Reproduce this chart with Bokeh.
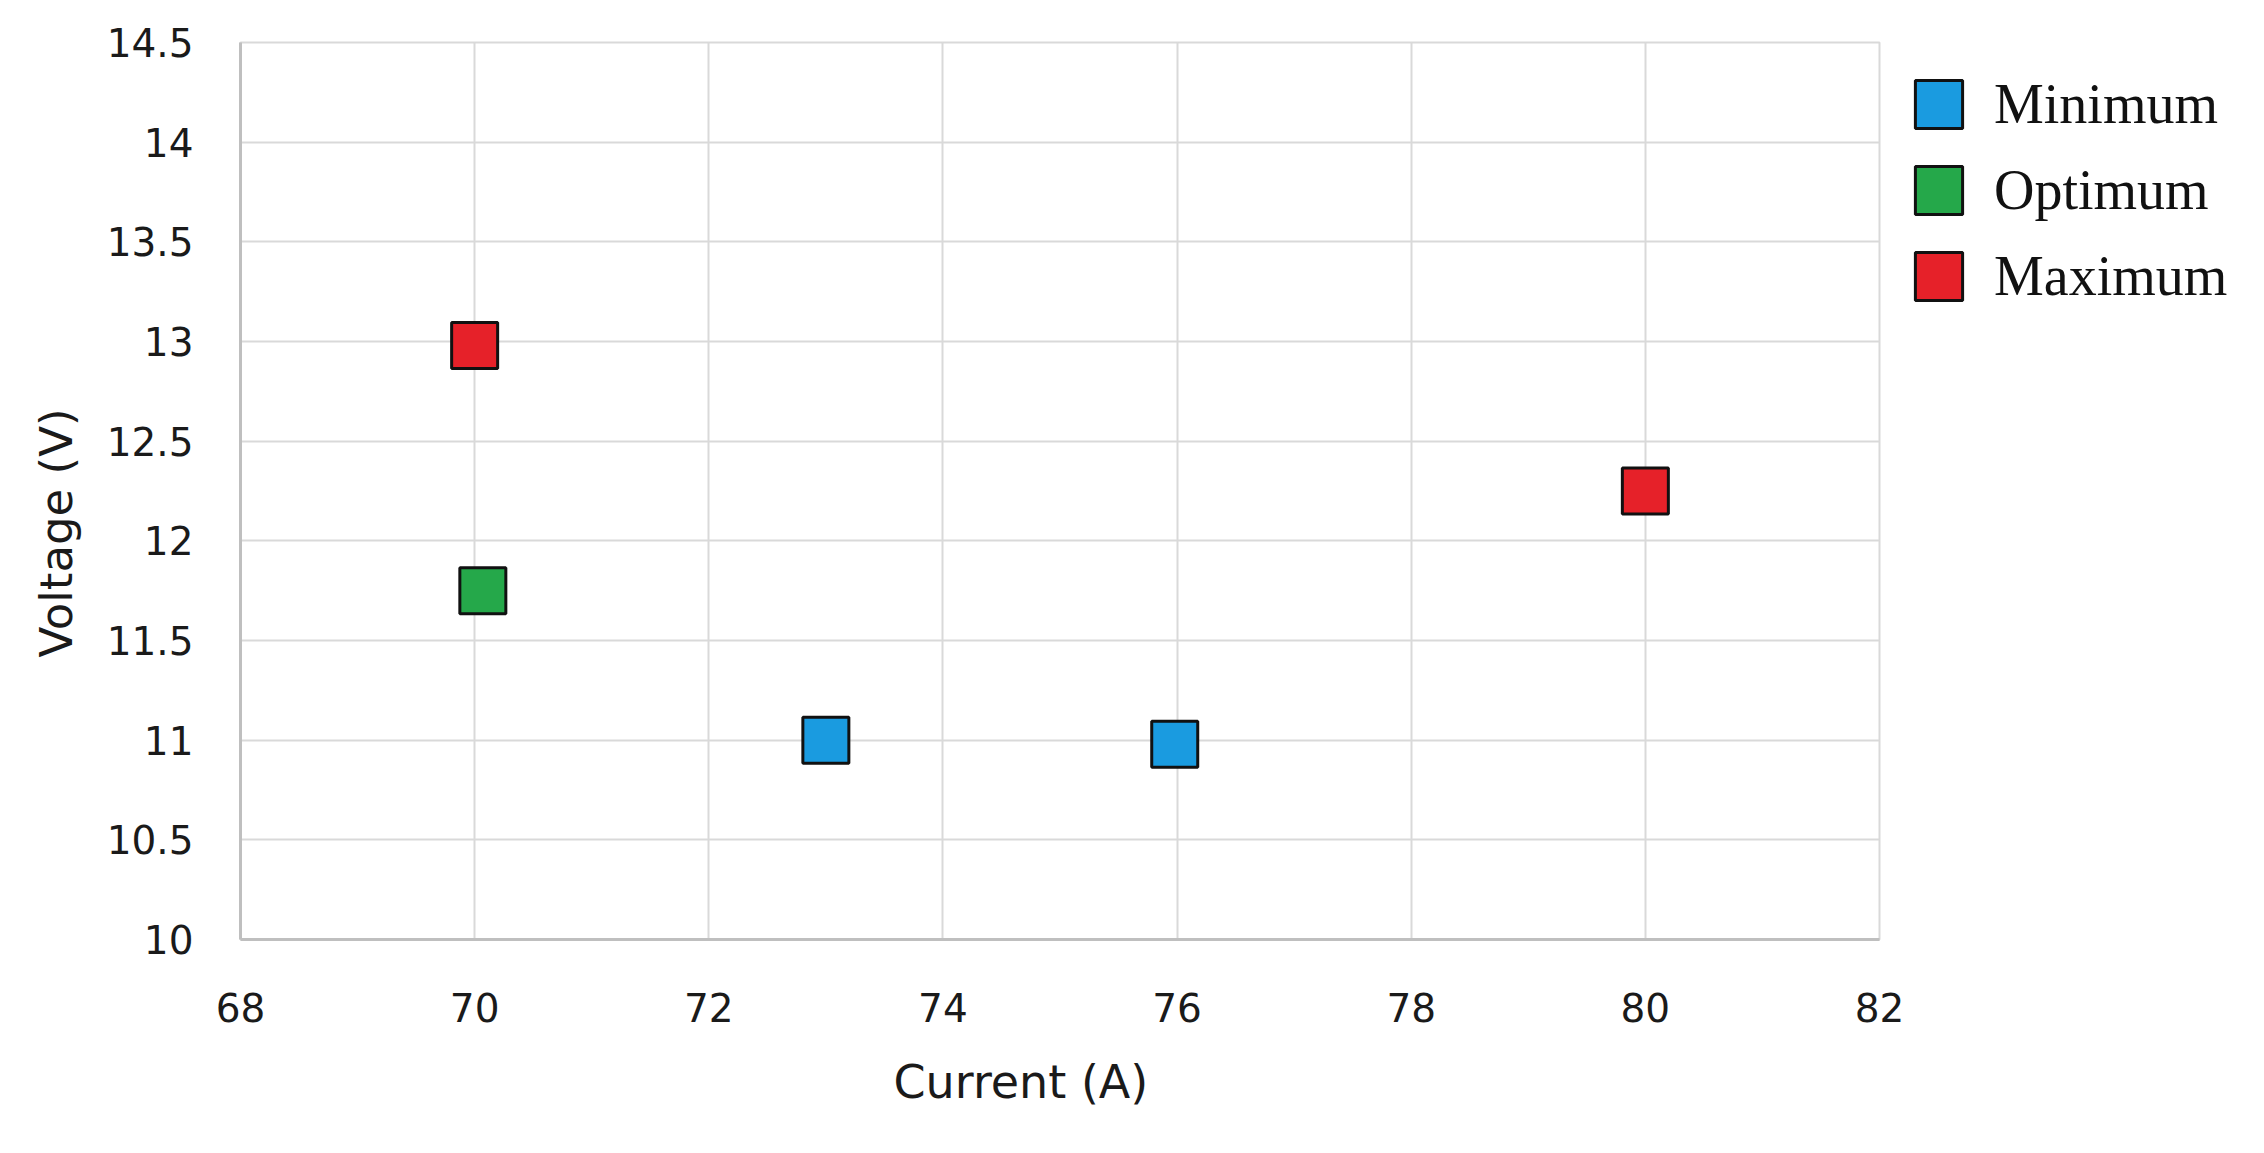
from bokeh.plotting import figure
from bokeh.models import ColumnDataSource, FixedTicker, Legend, LegendItem, Title, Range1d
from bokeh.embed import file_html
from bokeh.resources import INLINE

# ---- data ----
series_names = ["Minimum", "Optimum", "Maximum"]
series_colors = ["#1A9BE0", "#25A84A", "#E62129"]

min_current = [73.0, 75.98]
min_voltage = [11.0, 10.98]
opt_current = [70.07]
opt_voltage = [11.75]
max_current = [70.0, 80.0]
max_voltage = [12.98, 12.25]

x_ticks = [68, 70, 72, 74, 76, 78, 80, 82]
x_tick_labels = ["68", "70", "72", "74", "76", "78", "80", "82"]
y_ticks = [10, 10.5, 11, 11.5, 12, 12.5, 13, 13.5, 14, 14.5]
y_tick_labels = ["10", "10.5", "11", "11.5", "12", "12.5", "13", "13.5", "14", "14.5"]

x_title = "Current (A)"
y_title = "Voltage (V)"

# ---- figure ----
FRAME_L, FRAME_T, FRAME_W, FRAME_H = 240, 42, 1639, 897
p = figure(frame_width=FRAME_W, frame_height=FRAME_H,
           output_backend="svg", toolbar_location=None,
           x_range=Range1d(x_ticks[0], x_ticks[-1]),
           y_range=Range1d(y_ticks[0], y_ticks[-1]),
           min_border_left=FRAME_L, min_border_top=FRAME_T,
           min_border_bottom=120, min_border_right=0)
p.background_fill_color = "white"
p.border_fill_color = "white"
p.outline_line_color = "#D9D9D9"
p.outline_line_width = 2

grid_color = "#D9D9D9"
p.xaxis.ticker = FixedTicker(ticks=x_ticks)
p.yaxis.ticker = FixedTicker(ticks=y_ticks)
p.xaxis.major_label_overrides = {t: l for t, l in zip(x_ticks, x_tick_labels)}
p.yaxis.major_label_overrides = {t: l for t, l in zip(y_ticks, y_tick_labels)}
p.xgrid.grid_line_color = grid_color
p.ygrid.grid_line_color = grid_color
p.xgrid.grid_line_width = 2
p.ygrid.grid_line_width = 2

for ax in (p.xaxis, p.yaxis):
    ax.axis_line_color = "#BFBFBF"
    ax.axis_line_width = 3
    ax.major_tick_line_color = None
    ax.minor_tick_line_color = None
    ax.major_label_text_font = "DejaVu Sans"
    ax.major_label_text_font_size = "39px"
    ax.major_label_text_color = "#1A1A1A"
p.xaxis.major_label_standoff = 47
p.yaxis.major_label_standoff = 41

# ---- markers (square, fixed screen size) ----
sources = [
    (min_current, min_voltage),
    (opt_current, opt_voltage),
    (max_current, max_voltage),
]
legend_items = []
for name, color, (xs, ys) in zip(series_names, series_colors, sources):
    src = ColumnDataSource(dict(x=xs, y=ys))
    r = p.rect("x", "y", width=46, height=46, width_units="screen",
               height_units="screen", source=src,
               fill_color=color, line_color="#111111", line_width=3)
    legend_items.append(LegendItem(label=name, renderers=[r]))

legend = Legend(items=legend_items, location="top_left",
                glyph_width=59, glyph_height=60, label_height=60,
                spacing=22, label_standoff=26, padding=0, margin=30,
                border_line_color=None, background_fill_alpha=0,
                label_text_font="Liberation Serif", label_text_font_size="56px",
                label_text_color="#111111")
p.add_layout(legend, "right")

# ---- axis titles ----
p.add_layout(Title(text=x_title, align="left", offset=653,
                   vertical_align="top", standoff=60,
                   text_font="DejaVu Sans", text_font_size="46px",
                   text_font_style="normal", text_color="#1A1A1A"), "below")
p.add_layout(Title(text=y_title, align="left", offset=282,
                   vertical_align="middle", standoff=40,
                   text_font="DejaVu Sans", text_font_size="45px",
                   text_font_style="normal", text_color="#1A1A1A"), "left")

open("out.html", "w").write(file_html(p, INLINE))
